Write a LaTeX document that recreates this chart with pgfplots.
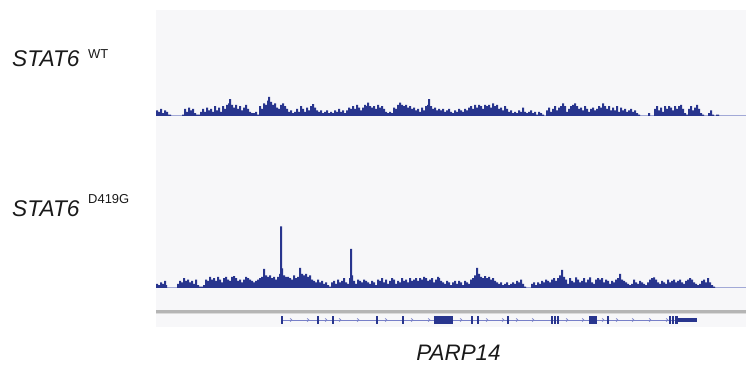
\documentclass[border=0pt]{standalone}
\usepackage{fontspec}
\setmainfont{Liberation Sans}
\usepackage{pgfplots}
\pgfplotsset{compat=1.18}
\definecolor{trk}{HTML}{28358E}
\definecolor{base}{HTML}{B4BAE2}
\definecolor{intr}{HTML}{7880C8}
\definecolor{panel}{HTML}{F7F7F9}
\definecolor{sep}{HTML}{B5B5B5}
\definecolor{txt}{HTML}{1A1A1A}
\pgfdeclareplotmark{chev}{%
  \pgfpathmoveto{\pgfpoint{-0.9pt}{1.6pt}}%
  \pgfpathlineto{\pgfpoint{0.9pt}{0pt}}%
  \pgfpathlineto{\pgfpoint{-0.9pt}{-1.6pt}}%
  \pgfusepathqstroke}
\pgfplotsset{trackax/.style={scale only axis, hide axis, width=590bp, xmin=156, xmax=746}}
\begin{document}
\begin{tikzpicture}
\path[use as bounding box] (0,0) rectangle (746bp,365bp);
\fill[panel] (156bp,38bp) rectangle (746bp,355bp);
% separator
\draw[sep, line width=2.5bp] (156bp,53.5bp) -- (746bp,53.5bp);
\draw[sep!50, line width=1bp] (156bp,51.3bp) -- (746bp,51.3bp);
% labels
\node[anchor=base west, inner sep=0, text=txt, font=\fontsize{22.8}{24}\selectfont\itshape] at (12bp,298bp) {STAT6};
\node[anchor=base west, inner sep=0, text=txt, font=\fontsize{13}{15}\selectfont] at (88bp,306.7bp) {WT};
\node[anchor=base west, inner sep=0, text=txt, font=\fontsize{22.8}{24}\selectfont\itshape] at (12bp,148bp) {STAT6};
\node[anchor=base west, inner sep=0, text=txt, font=\fontsize{13}{15}\selectfont] at (88bp,161.7bp) {D419G};
\node[anchor=base, inner sep=0, text=txt, font=\fontsize{22.5}{24}\selectfont\itshape] at (458.5bp,5bp) {PARP14};
% WT track
\begin{axis}[trackax, height=100bp, ymin=0, ymax=71.4, at={(156bp,249bp)}, anchor=south west]
\addplot[base, line width=1.5bp] coordinates {(156,0) (746,0)};
\addplot[const plot, fill=trk, draw=none] coordinates {
(156,4)(158,3)(160,5)(162,2)(164,4)(166,3)(168,1)(171,0)(182,1)(184,5)(186,3)(188,6)(190,4)(192,5)(194,2)(196,1)(200,3)(202,5)(204,3)(206,6)(208,4)(210,5)(212,3)(214,7)(216,4)(218,6)(220,3)(222,7)(224,5)(226,8)(228,9)(229,12)(231,8)(233,6)(235,8)(237,5)(239,7)(241,4)(243,6)(245,8)(247,5)(249,3)(251,2)(255,3)(257,1)(259,7)(261,5)(263,9)(265,8)(267,11)(268,13.6)(270,10)(272,8)(274,9)(276,6)(278,5)(280,8)(282,9)(284,7)(286,5)(288,3)(290,4)(292,2)(294,3)(296,5)(298,3)(300,7)(302,5)(304,3)(306,6)(308,4)(310,7)(312,8.5)(314,6)(316,4)(318,3)(320,4)(322,2)(324,3)(326,4)(328,2)(330,3)(332,2)(334,4)(336,3)(338,5)(340,3)(342,4)(344,2)(346,4)(348,6)(350,5)(352,7)(354,5)(356,8)(358,6)(360,4)(362,6)(364,8)(366,7)(367,9.5)(369,7)(371,6)(373,7)(375,5)(377,8)(379,6)(381,7)(383,5)(385,3)(387,2)(389,3)(391,2)(393,6)(395,5)(397,8)(399,9.5)(401,8)(403,7)(405,8)(407,6)(409,7)(411,5)(413,6)(415,4)(417,5)(419,3)(421,6)(423,4)(425,7)(427,8)(428,12)(430,7)(432,5)(434,6)(436,4)(438,5)
(440,4)(442,5)(444,3)(446,4)(448,5)(450,3)(452,2)(454,4)(456,3)(458,5)(460,4)(462,3)(464,5)(466,4)(468,6)(470,7)(472,5)(474,8)(476,6)(478,8)(480,7)(482,5)(484,8)(486,7)(488,8)(490,6)(492,9)(494,7)(496,8)(498,5)(500,6)(502,4)(504,7)(506,5)(508,3)(510,4)(512,2)(514,3)(516,2)(518,4)(520,3)(522,6)(524,3)(526,2)(528,3)(530,4)(532,2)(534,3)(536,1)(538,3)(540,2)(542,1)(544,0)(546,4)(548,6)(550,3)(552,5)(554,7)(556,4)(558,6)(560,7)(562,9)(564,7)(566,3)(568,5)(570,7)(572,8)(574,9)(576,7)(578,5)(580,6)(582,4)(584,7)(586,5)(588,3)(590,5)(592,6)(594,4)(596,5)(598,7)(600,6)(602,9)(604,7)(606,5)(608,7)(610,4)(612,6)(614,4)(616,7)(618,3)(620,6)(622,4)(624,5)(626,3)(628,4)(630,5)(632,3)(634,4)(636,2)(638,1)(640,0)(648,2)(650,0)(654,5)(656,7)(658,4)(660,6)(662,3)(664,7)(666,5)(668,7)(670,6)(672,4)(674,7)(676,5)(678,7)(680,8)(682,5)(684,2)(686,1)(688,5)(690,7)(692,4)(694,6)(696,8)(698,5)(700,2)(702,1)(704,0)(708,2)(710,4)(712,1)(714,0)(716,1)(719,0)(746,0)} \closedcycle;
\end{axis}
% D419G track
\begin{axis}[trackax, height=100bp, ymin=0, ymax=71.4, at={(156bp,77bp)}, anchor=south west]
\addplot[base, line width=1.5bp] coordinates {(156,0) (746,0)};
\addplot[const plot, fill=trk, draw=none] coordinates {
(156,3)(158,2)(160,4)(162,3)(164,5)(166,2)(167,0)(177,3)(179,5)(181,4)(183,7)(185,5)(187,6)(189,4)(191,5)(193,3)(195,6)(197,2)(199,1)(203,2)(205,6)(207,5)(209,8)(211,6)(213,7)(215,5)(217,8)(219,6)(221,4)(223,7)(225,8)(227,6)(229,5)(231,8)(233,8.5)(235,7)(237,5)(239,6)(241,4)(243,6)(245,8)(247,7)(249,6)(251,5)(253,4)(255,5)(257,6)(259,7)(261,8)(263,13.6)(265,9)(267,8)(269,9)(271,7)(273,8)(275,6)(277,8)(279,10)(280,44)(282,14)(283,9)(285,8)(287,8)(289,7)(291,6)(293,9)(295,7)(297,8)(299,14.3)(301,10)(303,9)(305,10)(307,8)(309,9)(311,6)(313,5)(315,4)(317,6)(319,4)(321,5)(323,3)(325,4)(327,2)(329,1)(331,4)(333,5)(335,3)(337,6)(339,4)(341,5)(343,7)(345,4)(347,3)(349,7)(350,28)(352,9)(353,5)(355,3)(357,6)(359,5)(361,4)(363,6)(365,5)(367,4)(369,3)(371,5)(373,4)(375,2)(377,6)(379,5)(381,7)(383,4)(385,6)(387,3)(389,5)(391,7)(393,6)(395,3)(397,5)(399,4)(401,7)(403,5)(405,6)(407,4)(409,7)(411,5)(413,6)(415,7)(417,5)(419,7)(421,6)(423,8)(425,7)(427,5)(429,6)(431,7)(433,4)(435,6)(437,8)(439,7)
(440,5)(442,4)(444,3)(446,5)(448,4)(450,2)(452,4)(454,5)(456,3)(458,5)(460,4)(462,2)(464,5)(466,4)(468,3)(470,6)(472,7)(474,9)(476,14.3)(478,10)(480,8)(482,7)(484,8.5)(486,7)(488,8)(490,6)(492,7)(494,5)(496,4)(498,3)(500,4)(502,2)(504,3)(506,4)(508,2)(510,3)(512,4)(514,3)(516,5)(518,4)(520,6)(522,3)(524,1)(526,0)(531,3)(533,4)(535,2)(537,4)(539,3)(541,5)(543,4)(545,6)(547,5)(549,4)(551,6)(553,7)(555,5)(557,7)(559,9)(561,13)(563,8)(565,6)(567,3)(569,7)(571,5)(573,4)(575,7.5)(577,6)(579,4)(581,5)(583,7)(585,4)(587,6)(589,7.5)(591,4)(593,3)(595,6)(597,7)(599,6)(601,7)(603,4)(605,6)(607,5)(609,3)(611,5)(613,4)(615,6)(617,7)(619,10)(621,6)(623,5)(625,4)(627,3)(629,2)(631,3)(633,6)(635,4)(637,3)(639,5)(641,4)(643,3)(645,2)(647,4)(649,6)(651,7)(653,7.5)(655,6)(657,4)(659,3)(661,5)(663,4)(665,3)(667,6)(669,4)(671,5)(673,6)(675,4)(677,5)(679,6)(681,4)(683,3)(685,5)(687,6)(689,7)(691,6)(693,4)(695,3)(697,2)(699,3)(701,5)(703,6)(705,4)(707,7)(709,4)(711,2)(713,1)(715,0)(746,0)} \closedcycle;
\end{axis}
% gene track
\begin{axis}[trackax, height=20bp, ymin=-10, ymax=10, at={(156bp,35bp)}, anchor=south west, unbounded coords=jump]
\addplot[intr, line width=1bp] coordinates {(281,0) (697,0)};
\addplot[only marks, mark=chev, intr, mark options={line width=0.7bp}] coordinates {
(291,0)(308,0)(326,0)(340,0)(358,0)(386,0)(412,0)(429,0)(461,0)(487,0)(503,0)(517,0)(533,0)(567,0)(583,0)(603,0)(617,0)(633,0)(650,0)(667,0)};
\addplot[trk, line width=7.5bp, line cap=butt] coordinates {
(281,0)(283,0)(nan,nan)(317,0)(319,0)(nan,nan)(332,0)(334,0)(nan,nan)(376,0)(378,0)(nan,nan)(402,0)(404,0)(nan,nan)(434,0)(453,0)(nan,nan)(471,0)(473,0)(nan,nan)(477,0)(479,0)(nan,nan)(507,0)(509,0)(nan,nan)(551,0)(552.8,0)(nan,nan)(554.2,0)(556,0)(nan,nan)(557.4,0)(559.2,0)(nan,nan)(589,0)(597,0)(nan,nan)(607,0)(609,0)(nan,nan)(669,0)(670.5,0)(nan,nan)(672,0)(673.5,0)(nan,nan)(675,0)(677.5,0)};
\addplot[trk, line width=4.5bp, line cap=butt] coordinates {(677,0)(697,0)};
\end{axis}
\end{tikzpicture}
\end{document}
